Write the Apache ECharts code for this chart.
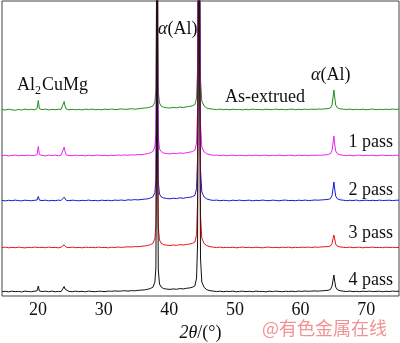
<!DOCTYPE html>
<html>
<head>
<meta charset="utf-8">
<script src="https://cdn.jsdelivr.net/npm/echarts@6/dist/echarts.min.js"></script>
<style>
  html, body { margin: 0; padding: 0; background: #fff; }
  #xrd-chart { width: 400px; height: 343px; }
</style>
</head>
<body>
<div id="xrd-chart"></div>
<script>
// 2θ positions shared by all five patterns
var twoTheta = [
  14.5, 15, 15.5, 16, 16.5, 17, 17.5, 18, 18.5, 19, 19.5,
  19.85, 20.03, 20.2,
  20.6, 21.1, 21.6, 22.1, 22.6, 23.1, 23.5,
  23.8, 23.97, 24.1, 24.3,
  24.7, 25.2, 25.7, 26.2, 26.7, 27.2, 27.7, 28.2, 28.7, 29.2,
  29.7, 30.2, 30.7, 31.2, 31.7, 32.2, 32.7, 33.2, 33.7, 34.2,
  34.7, 35.2, 35.7, 36.2, 36.7, 37.1, 37.5,
  37.8, 37.95, 38.05, 38.13, 38.22, 38.32, 38.5, 38.75,
  39.1, 39.6, 40.1, 40.6, 41.1, 41.6, 42.1, 42.6, 43.1, 43.5, 43.9,
  44.15, 44.3, 44.43, 44.53, 44.62, 44.75, 44.95, 45.3,
  45.7, 46.2, 46.7, 47.2, 47.7, 48.2, 48.7, 49.2, 49.7, 50.2,
  50.7, 51.2, 51.7, 52.2, 52.7, 53.2, 53.7, 54.2, 54.7, 55.2,
  55.7, 56.2, 56.7, 57.2, 57.7, 58.2, 58.7, 59.2, 59.7, 60.2,
  60.7, 61.2, 61.7, 62.2, 62.7, 63.2, 63.7, 64.2,
  64.55, 64.8, 64.95, 65.08, 65.2, 65.35, 65.6,
  66, 66.5, 67, 67.5, 68, 68.5, 69, 69.5, 70, 70.5,
  71, 71.5, 72, 72.5, 73, 73.5, 74, 74.5, 75
];

// intensity above each pattern's own baseline
var asExtruded = [
  0.5, 0, 0.8, 0.2, -0.3, 0.6, 0, 0.9, 0.3, 0.7, 0.2,
  1.5, 9.5, 1.2,
  0.4, 0.9, 0.1, 0.6, 0.3, 0.8, 0.5,
  1.2, 8.5, 4, 0.9,
  0.3, 0.7, 0.2, 0.6, 0.1, 0.8, 0.4, 0.9, 0.3, 0.6,
  0.2, 0.8, 0.5, 1.0, 0.4, 0.7, 1.1, 0.6, 0.9, 1.3,
  0.8, 1.2, 1.6, 1.9, 2.3, 3.0, 4.0,
  8, 20, 120, 1200, 110, 18, 7, 4,
  2.8, 2.2, 2.0, 2.6, 2.2, 3.0, 2.5, 3.2, 3.6, 4.2, 5.5,
  12, 40, 250, 1200, 200, 30, 9, 4,
  2, 1.2, 0.8, 0.4, 0.9, 0.3, 0.7, 0.2, 0.8, 0.4,
  0.6, 0.1, 0.7, 0.3, 0.9, 0.4, 0.6, 0.2, 0.8, 0.5,
  0.3, 0.9, 0.4, 0.7, 0.2, 0.6, 0.9, 0.3, 0.7, 0.4,
  0.8, 0.5, 0.9, 0.6, 1.0, 0.7, 1.2, 1.4,
  2.0, 5, 13, 20, 13, 5, 2.2,
  1.2, 0.8, 0.5, 0.9, 0.3, 0.7, 0.4, 0.8, 0.2, 0.6,
  0.9, 0.3, 0.7, 0.4, 0.8, 0.5, 0.9, 0.6, 0.8
];
var pass1 = [
  0.3, 0.8, 0.1, 0.6, 0.9, 0.2, 0.7, 0.4, 0.9, 0.3, 0.6,
  1.4, 9.5, 1.3,
  0.6, 0.2, 0.8, 0.4, 0.9, 0.3, 0.7,
  1.5, 9, 4.5, 1.0,
  0.5, 0.2, 0.9, 0.4, 0.7, 0.1, 0.8, 0.3, 0.6, 0.9,
  0.4, 0.7, 0.2, 0.8, 0.5, 1.0, 0.6, 1.1, 0.7, 1.2,
  1.0, 1.5, 1.3, 1.8, 2.4, 3.2, 4.5,
  9, 22, 130, 1200, 120, 20, 7, 4.5,
  3.0, 2.4, 2.1, 2.7, 2.3, 3.1, 2.6, 3.3, 3.8, 4.4, 5.8,
  13, 45, 260, 1200, 210, 32, 9, 4,
  2.2, 1.3, 0.7, 0.9, 0.4, 0.8, 0.2, 0.6, 0.9, 0.3,
  0.7, 0.5, 0.2, 0.8, 0.4, 0.9, 0.3, 0.6, 0.8, 0.2,
  0.7, 0.4, 0.9, 0.5, 0.3, 0.8, 0.6, 0.2, 0.9, 0.5,
  0.7, 0.4, 0.8, 0.6, 0.9, 0.7, 1.1, 1.5,
  2.2, 5.5, 13, 20, 12, 5, 2.3,
  1.3, 0.7, 0.4, 0.8, 0.2, 0.6, 0.9, 0.3, 0.7, 0.5,
  0.8, 0.2, 0.6, 0.9, 0.4, 0.7, 0.3, 0.8, 0.6
];
var pass2 = [
  0.6, 0.1, 0.7, 0.3, 0.9, 0.4, 0.2, 0.8, 0.5, 0.3, 0.7,
  1.0, 4.5, 0.9,
  0.4, 0.8, 0.2, 0.6, 0.3, 0.9, 0.5,
  0.8, 3.8, 1.8, 0.6,
  0.3, 0.8, 0.5, 0.2, 0.7, 0.4, 0.9, 0.3, 0.6, 0.2,
  0.8, 0.5, 0.7, 0.3, 0.9, 0.6, 1.0, 0.5, 1.2, 0.9,
  1.4, 1.1, 1.5, 1.8, 2.2, 3.0, 4.2,
  8.5, 21, 125, 1200, 115, 19, 7, 4.2,
  3.1, 2.5, 2.2, 2.8, 2.4, 3.2, 2.7, 3.4, 3.7, 4.3, 5.6,
  12.5, 42, 255, 1200, 205, 31, 9, 4,
  2.1, 1.1, 0.6, 0.9, 0.3, 0.7, 0.5, 0.2, 0.8, 0.4,
  0.9, 0.3, 0.6, 0.8, 0.2, 0.7, 0.4, 0.9, 0.5, 0.3,
  0.8, 0.6, 0.2, 0.7, 0.9, 0.4, 0.6, 0.3, 0.8, 0.5,
  0.9, 0.4, 0.7, 1.0, 0.8, 1.1, 1.3, 1.6,
  2.3, 5.5, 12.5, 19, 12, 5, 2.2,
  1.2, 0.8, 0.3, 0.7, 0.5, 0.9, 0.2, 0.6, 0.8, 0.4,
  0.7, 0.3, 0.9, 0.5, 0.6, 0.8, 0.4, 0.7, 0.9
];
var pass3 = [
  0.4, 0.9, 0.2, 0.6, 0.3, 0.8, 0.5, 0.1, 0.7, 0.4, 0.9,
  0.6, 1.8, 0.5,
  0.7, 0.3, 0.9, 0.4, 0.6, 0.2, 0.8,
  0.9, 3.2, 1.4, 0.7,
  0.4, 0.9, 0.3, 0.6, 0.2, 0.8, 0.5, 0.7, 0.3, 0.9,
  0.4, 0.6, 0.2, 0.8, 0.5, 1.0, 0.6, 0.9, 1.2, 1.0,
  1.4, 1.3, 1.7, 2.0, 2.5, 3.3, 4.6,
  9.5, 23, 135, 1200, 125, 21, 8, 4.8,
  3.4, 2.8, 2.5, 3.0, 2.6, 3.4, 2.9, 3.6, 4.0, 4.6, 6.0,
  13.5, 46, 265, 1200, 215, 33, 10, 4.5,
  2.4, 1.4, 0.8, 0.5, 0.9, 0.3, 0.7, 0.4, 0.8, 0.2,
  0.6, 0.9, 0.4, 0.7, 0.3, 0.8, 0.5, 0.2, 0.7, 0.9,
  0.4, 0.6, 0.3, 0.8, 0.5, 0.9, 0.2, 0.7, 0.4, 0.8,
  0.6, 0.9, 0.5, 1.0, 0.7, 1.1, 1.2, 1.5,
  2.0, 4.5, 9.5, 13, 9, 4, 1.8,
  1.1, 0.7, 0.4, 0.9, 0.3, 0.6, 0.8, 0.2, 0.7, 0.5,
  0.9, 0.4, 0.6, 0.3, 0.8, 0.5, 0.7, 0.4, 0.6
];
var pass4 = [
  0.3, 0.7, 0.2, 0.8, 0.4, 0.6, 0.1, 0.9, 0.5, 0.3, 0.8,
  1.2, 6, 1.0,
  0.5, 0.8, 0.3, 0.9, 0.2, 0.6, 0.4,
  1.5, 5.5, 3.0, 1.2,
  0.6, 0.3, 0.8, 0.4, 0.7, 0.2, 0.9, 0.5, 0.3, 0.8,
  0.6, 0.4, 0.9, 0.7, 1.1, 0.8, 1.0, 1.3, 0.9, 1.4,
  1.2, 1.6, 1.9, 2.1, 2.7, 3.5, 4.8,
  10, 24, 140, 1200, 130, 22, 8, 5,
  3.5, 2.9, 2.6, 3.1, 2.7, 3.5, 3.0, 3.7, 4.1, 4.7, 6.2,
  14, 48, 270, 1200, 220, 34, 10, 4.6,
  2.3, 1.3, 0.9, 0.4, 0.8, 0.3, 0.7, 0.5, 0.9, 0.2,
  0.6, 0.8, 0.4, 0.7, 0.3, 0.9, 0.5, 0.6, 0.2, 0.8,
  0.4, 0.9, 0.6, 0.3, 0.7, 0.5, 0.8, 0.4, 0.9, 0.6,
  1.0, 0.7, 0.9, 1.1, 0.8, 1.2, 1.4, 1.7,
  2.5, 6, 12, 17, 11, 5, 2.3,
  1.3, 0.8, 0.5, 0.9, 0.4, 0.7, 0.3, 0.8, 0.5, 0.9,
  0.4, 0.6, 0.8, 0.3, 0.7, 0.5, 0.9, 0.6, 0.8
];

var seriesNames = ['As-extrued', '1 pass', '2 pass', '3 pass', '4 pass'];
var patterns = [asExtruded, pass1, pass2, pass3, pass4];
var offsets = [186, 140, 95, 48, 4];
var colors = ['#1f8f1f', '#ee22ee', '#1818d8', '#ee1111', '#111111'];
var xTicks = [20, 30, 40, 50, 60, 70];

var serif = 'Liberation Serif';

var chart = echarts.init(document.getElementById('xrd-chart'));

var series = patterns.map(function (vals, k) {
  return {
    name: seriesNames[k],
    type: 'line',
    showSymbol: false,
    symbol: 'none',
    clip: true,
    lineStyle: { width: 1, color: colors[k] },
    data: twoTheta.map(function (x, i) {
      return [x, offsets[k] + vals[i]];
    }),
  };
});

function label(x, y, text, align, rich) {
  return {
    type: 'text',
    x: x,
    y: y,
    z: 10,
    style: {
      text: text,
      fill: '#111',
      fontFamily: serif,
      fontSize: 18,
      align: align || 'left',
      verticalAlign: 'middle',
      rich: rich,
    },
  };
}

var alphaRich = {
  a: { fontFamily: serif, fontSize: 18, fontStyle: 'italic', fill: '#111' },
  n: { fontFamily: serif, fontSize: 18, fill: '#111' },
};

var option = {
  animation: false,
  backgroundColor: '#fff',
  grid: {
    left: 2,
    right: 1,
    top: 1,
    bottom: 47,
    outerBoundsMode: 'none',
    show: true,
    borderColor: '#444',
    borderWidth: 1,
    backgroundColor: '#fff',
  },
  xAxis: {
    type: 'value',
    min: 14.5,
    max: 75,
    splitLine: { show: false },
    axisLine: { show: false },
    axisTick: { show: false },
    axisLabel: {
      customValues: xTicks,
      margin: 5,
      color: '#111',
      fontFamily: serif,
      fontSize: 18,
    },
    name: '{i|2θ}{n|/(°)}',
    nameLocation: 'middle',
    nameGap: 25,
    nameTextStyle: {
      rich: {
        i: { fontFamily: serif, fontSize: 18, fontStyle: 'italic', color: '#111' },
        n: { fontFamily: serif, fontSize: 18, color: '#111' },
      },
    },
  },
  yAxis: {
    type: 'value',
    min: 0,
    max: 295,
    show: false,
  },
  graphic: [
    { type: 'text', x: 17, y: 85, z: 10, style: { text: 'Al', fill: '#111', fontFamily: serif, fontSize: 18, verticalAlign: 'middle' } },
    { type: 'text', x: 35, y: 91, z: 10, style: { text: '2', fill: '#111', fontFamily: serif, fontSize: 12, verticalAlign: 'middle' } },
    { type: 'text', x: 42, y: 85, z: 10, style: { text: 'CuMg', fill: '#111', fontFamily: serif, fontSize: 18, verticalAlign: 'middle' } },
    label(158, 29, '{a|α}{n|(Al)}', 'left', alphaRich),
    label(311, 75, '{a|α}{n|(Al)}', 'left', alphaRich),
    label(225, 97, 'As-extrued'),
    label(393, 142, '1 pass', 'right'),
    label(393, 190, '2 pass', 'right'),
    label(393, 233, '3 pass', 'right'),
    label(393, 280, '4 pass', 'right'),
    {
      type: 'text',
      x: 262,
      y: 328,
      z: 10,
      style: {
        text: '@有色金属在线',
        fill: 'rgba(236, 110, 110, 0.75)',
        fontFamily: 'Noto Sans CJK SC',
        fontSize: 18,
        verticalAlign: 'middle',
      },
    },
  ],
  series: series,
};

chart.setOption(option);
</script>
</body>
</html>
